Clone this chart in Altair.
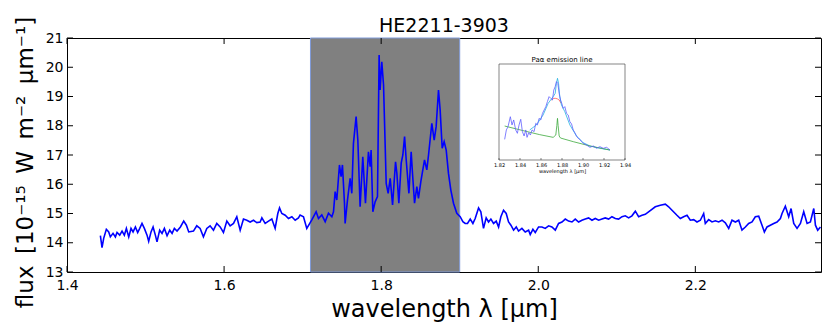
import altair as alt
import pandas as pd

TITLE = "HE2211-3903"
X_TITLE = "wavelength λ [μm]"
Y_TITLE = "flux\u2002[10⁻¹⁵\u2002W\u2002m⁻²\u2002μm⁻¹]"
INSET_TITLE = "Paα emission line"
INSET_X_TITLE = "wavelength λ [μm]"

X_TICKS = [1.4, 1.6, 1.8, 2.0, 2.2]
Y_TICKS = [13, 14, 15, 16, 17, 18, 19, 20, 21]
INSET_X_TICKS = [1.82, 1.84, 1.86, 1.88, 1.90, 1.92, 1.94]

# shaded wavelength band (x0, x1) spanning full flux range
BAND = [(1.71, 1.90, 13, 21)]

# spectrum segments: (wavelength um, flux 1e-15 W m-2 um-1)
seg_a = [(1.4425,14.24),(1.4446,13.83),(1.4467,14.15),(1.4501,14.46),(1.4531,14.37),(1.4552,14.20),(1.4586,14.32),(1.4616,14.20),(1.4637,14.35),(1.4671,14.26),(1.4701,14.40),(1.4730,14.26),(1.4756,14.49),(1.4786,14.20),(1.4815,14.49),(1.4841,14.37),(1.4871,14.54),(1.4900,14.35),(1.4926,14.49),(1.4955,14.66),(1.4985,14.49),(1.5019,14.26),(1.5040,14.05),(1.5070,14.37),(1.5096,14.54),(1.5125,14.26),(1.5146,14.03),(1.5180,14.43),(1.5210,14.32),(1.5240,14.49),(1.5274,14.24),(1.5308,14.43),(1.5338,14.32),(1.5367,14.49),(1.5401,14.40),(1.5444,14.54),(1.5486,14.74),(1.5520,14.60),(1.5550,14.37)]
seg_b = [(1.5610,14.40),(1.5652,14.58),(1.5695,14.49),(1.5737,14.20),(1.5780,14.49),(1.5822,14.58),(1.5865,14.43),(1.5907,14.66),(1.5950,14.54),(1.5992,14.35),(1.6035,14.74),(1.6077,14.58),(1.6120,14.66),(1.6162,14.89),(1.6205,14.43),(1.6247,14.81),(1.6289,14.77),(1.6332,14.71),(1.6374,14.77),(1.6417,14.69),(1.6459,14.71),(1.6481,14.85),(1.6523,14.66),(1.6566,14.74),(1.6608,14.81),(1.6650,14.49),(1.6684,15.00),(1.6706,15.19),(1.6735,15.00),(1.6778,14.94),(1.6820,14.83),(1.6863,14.89),(1.6905,14.77),(1.6947,14.85)]
seg_c = [(1.6968,14.95),(1.7011,14.89),(1.7053,14.49),(1.7117,14.78),(1.7172,15.06),(1.7202,14.83),(1.7244,14.95),(1.7287,14.72),(1.7329,15.01),(1.7372,14.89),(1.7393,15.06),(1.7414,15.75),(1.7435,15.46),(1.7469,16.66),(1.7490,16.26),(1.7507,16.66),(1.7533,15.35),(1.7541,14.66),(1.7571,15.46),(1.7605,16.20),(1.7626,15.69),(1.7647,17.40),(1.7681,18.31),(1.7703,17.51),(1.7732,15.23),(1.7766,16.94),(1.7800,15.35),(1.7838,17.11),(1.7860,16.60),(1.7872,17.17),(1.7894,15.06),(1.7923,15.40),(1.7953,15.58),(1.7974,20.42),(1.7987,19.22),(1.8008,20.19),(1.8030,19.40)]
seg_d = [(1.8064,16.03),(1.8089,15.69),(1.8115,16.20),(1.8145,15.29),(1.8183,16.77),(1.8200,16.37),(1.8225,15.35),(1.8255,16.72),(1.8276,17.00),(1.8298,17.63),(1.8319,16.83),(1.8353,15.69),(1.8382,17.11),(1.8399,16.37),(1.8425,15.35),(1.8454,15.92),(1.8475,15.52),(1.8505,16.09),(1.8552,16.83),(1.8581,16.49),(1.8603,17.00),(1.8645,18.08),(1.8675,17.51),(1.8700,17.97),(1.8730,19.22),(1.8751,18.54),(1.8777,17.23),(1.8802,17.46),(1.8828,17.17),(1.8857,16.37),(1.8887,15.80),(1.8921,15.35),(1.8963,15.01),(1.9006,14.89),(1.9040,14.72),(1.9070,14.66)]
seg_e = [(1.9099,14.66),(1.9134,14.81),(1.9168,14.66),(1.9197,14.83),(1.9240,15.19),(1.9269,15.06),(1.9303,14.49),(1.9337,14.85),(1.9367,14.71),(1.9397,14.81),(1.9431,14.66),(1.9465,14.74),(1.9495,14.54),(1.9524,14.89),(1.9558,15.11),(1.9592,15.00),(1.9622,14.71),(1.9652,14.60),(1.9686,14.43),(1.9720,14.54),(1.9749,14.40),(1.9792,14.49),(1.9834,14.37),(1.9877,14.43),(1.9898,14.28),(1.9932,14.46),(1.9962,14.35),(2.0004,14.54),(2.0047,14.54),(2.0089,14.49),(2.0132,14.58),(2.0174,14.54),(2.0217,14.43),(2.0259,14.66),(2.0302,14.71),(2.0344,14.81),(2.0386,14.74),(2.0429,14.71),(2.0471,14.81),(2.0514,14.71),(2.0556,14.77),(2.0599,14.81),(2.0641,14.85),(2.0684,14.77),(2.0726,14.83),(2.0769,14.77),(2.0811,14.81),(2.0853,14.85),(2.0896,14.81),(2.0938,14.89),(2.0981,14.83),(2.1023,14.81),(2.1066,14.89),(2.1108,14.92),(2.1151,14.85),(2.1193,14.92),(2.1236,15.08),(2.1278,14.89),(2.1321,14.94),(2.1363,14.97)]
seg_f = [(2.1490,15.23),(2.1554,15.28),(2.1618,15.32),(2.1660,15.23),(2.1703,15.11),(2.1766,14.94),(2.1809,14.83),(2.1851,14.89),(2.1894,14.94),(2.1936,14.77),(2.1979,14.79),(2.2021,14.71),(2.2064,14.77),(2.2106,15.00),(2.2127,14.66),(2.2170,14.79),(2.2212,14.71),(2.2255,14.75),(2.2297,14.71),(2.2340,14.77),(2.2382,14.68),(2.2425,14.49),(2.2467,14.77),(2.2510,14.71),(2.2552,14.77),(2.2594,14.43),(2.2637,14.54),(2.2679,14.66),(2.2722,14.71),(2.2764,14.89),(2.2807,14.91),(2.2849,14.60),(2.2879,14.37),(2.2913,14.54),(2.2955,14.60),(2.2998,14.66),(2.3040,14.71),(2.3083,14.83),(2.3104,15.00),(2.3146,15.25),(2.3189,14.89),(2.3219,15.17),(2.3253,14.66),(2.3295,14.49),(2.3338,14.66),(2.3380,15.06),(2.3423,14.66),(2.3465,14.71),(2.3508,15.17),(2.3529,14.60),(2.3558,14.43),(2.3593,14.54)]

# inset (arbitrary flux units 0..10)
inset_data = [(1.8254,2.15),(1.8270,3.13),(1.8286,3.47),(1.8308,4.51),(1.8324,3.65),(1.8340,4.17),(1.8359,3.13),(1.8375,2.78),(1.8391,3.65),(1.8407,4.24),(1.8423,2.95),(1.8439,2.50),(1.8455,3.13),(1.8467,2.36),(1.8483,2.85),(1.8499,2.60),(1.8515,3.13),(1.8534,2.95),(1.8550,3.82),(1.8566,3.65),(1.8582,4.34),(1.8598,4.17),(1.8614,4.86),(1.8630,5.21),(1.8646,5.56),(1.8661,6.08),(1.8677,6.60),(1.8693,6.42),(1.8709,6.25),(1.8722,7.29),(1.8735,7.64),(1.8747,8.16),(1.8760,7.99),(1.8773,6.94),(1.8786,6.25),(1.8798,5.90),(1.8811,5.38),(1.8827,5.56),(1.8843,4.86),(1.8859,4.69),(1.8875,3.99),(1.8891,3.75),(1.8907,3.13),(1.8922,2.85),(1.8938,2.50),(1.8954,2.26),(1.8970,2.15),(1.8986,1.91),(1.9002,1.74),(1.9034,1.56),(1.9066,1.32),(1.9098,1.46),(1.9129,1.22),(1.9161,1.39),(1.9193,1.22),(1.9225,1.32),(1.9257,1.04)]
inset_total = [(1.8493,3.13),(1.8556,3.65),(1.8620,4.69),(1.8668,5.90),(1.8716,6.60),(1.8735,6.94),(1.8747,7.99),(1.8757,8.51),(1.8767,7.99),(1.8779,6.60),(1.8795,5.73),(1.8827,5.03),(1.8875,3.65),(1.8938,2.50),(1.9002,1.80),(1.9066,1.46),(1.9161,1.22),(1.9257,1.04)]
inset_broad = [(1.8700,6.25),(1.8722,6.42),(1.8741,6.42),(1.8757,6.36),(1.8773,6.25),(1.8792,5.90)]
inset_narrow = [(1.8254,3.54),(1.8429,3.06),(1.8588,2.64),(1.8716,2.36),(1.8741,2.60),(1.8751,3.60),(1.8757,4.34),(1.8763,3.60),(1.8773,2.50),(1.8786,2.29),(1.8907,1.91),(1.9066,1.46),(1.9257,1.04)]

W, H = 754, 234
FONT = "DejaVu Sans"

spec_df = pd.DataFrame(seg_a + seg_b + seg_c + seg_d + seg_e + seg_f, columns=["wl", "flux"])
band_df = pd.DataFrame(BAND, columns=["x0", "x1", "y0", "y1"])
xt_df = pd.DataFrame({"t": X_TICKS})
yt_df = pd.DataFrame({"t": Y_TICKS})

XSCALE = alt.Scale(domain=[1.4, 2.36], nice=False, zero=False)
YSCALE = alt.Scale(domain=[13, 21], nice=False, zero=False)
XAXIS = alt.Axis(values=X_TICKS, format=".1f", ticks=False, domain=False, grid=False,
                 labelFontSize=14, labelPadding=6, labelFlush=False, labelColor="black",
                 labelFont=FONT, title=X_TITLE, titleFont=FONT, titleFontSize=24,
                 titleFontWeight="normal", titleColor="black", titleY=44,
                 titleBaseline="alphabetic")
YAXIS = alt.Axis(values=Y_TICKS, format="d", ticks=False, domain=False, grid=False,
                 labelFontSize=14, labelPadding=4, labelColor="black", labelFont=FONT,
                 title=Y_TITLE, titleFont=FONT, titleFontSize=23, titleFontWeight="normal",
                 titleColor="black", titleX=-35, titleY=124, titleAngle=270,
                 titleBaseline="alphabetic", titleLimit=400)


def xm(f):
    return alt.X(f"{f}:Q", scale=XSCALE, axis=XAXIS)


def ym(f):
    return alt.Y(f"{f}:Q", scale=YSCALE, axis=YAXIS)


gray = alt.Chart(band_df).mark_rect(fill="#808080", stroke="#7f9ad8", strokeWidth=1).encode(
    x=xm("x0"), x2="x1", y=ym("y0"), y2="y1")
spec = alt.Chart(spec_df).mark_line(color="#0000ff", strokeWidth=1.6).encode(
    x=xm("wl"), y=ym("flux"))
tick_b = alt.Chart(xt_df).mark_rule(color="black").encode(
    x=xm("t"), y=alt.value(H), y2=alt.value(H - 6))
tick_t = alt.Chart(xt_df).mark_rule(color="black").encode(
    x=xm("t"), y=alt.value(0), y2=alt.value(6))
tick_l = alt.Chart(yt_df).mark_rule(color="black").encode(
    y=ym("t"), x=alt.value(0), x2=alt.value(6))
tick_r = alt.Chart(yt_df).mark_rule(color="black").encode(
    y=ym("t"), x=alt.value(W), x2=alt.value(W - 6))
title_mark = alt.Chart(pd.DataFrame({"label": [TITLE]})).mark_text(
    fontSize=19, font=FONT, color="black", baseline="alphabetic", align="center").encode(
    x=alt.value(W / 2), y=alt.value(-6), text="label:N")
main = alt.layer(gray, spec, tick_b, tick_t, tick_l, tick_r, title_mark)

# inset placed in pixel range of the plot area
IX = alt.Scale(domain=[1.82, 1.94], range=[432, 558], nice=False, zero=False)
IY = alt.Scale(domain=[0, 10], range=[122, 26], nice=False, zero=False)
IAXIS = alt.Axis(orient="bottom", offset=-112, values=INSET_X_TICKS, format=".2f",
                 ticks=False, domain=False, grid=False, labelFontSize=5, labelPadding=2,
                 labelFlush=False, labelColor="black", labelFont=FONT, title=INSET_X_TITLE,
                 titleFont=FONT, titleFontSize=5, titlePadding=1, titleFontWeight="normal",
                 titleColor="black")


def xi(f):
    return alt.X(f"{f}:Q", scale=IX, axis=IAXIS)


def yi(f):
    return alt.Y(f"{f}:Q", scale=IY, axis=None)


box_df = pd.DataFrame([(1.82, 1.94, 0, 10)], columns=["x0", "x1", "y0", "y1"])
box = alt.Chart(box_df).mark_rect(fill="white", stroke="#333333", strokeWidth=0.6).encode(
    x=xi("x0"), x2="x1", y=yi("y0"), y2="y1")


def iline(pairs, color, w=0.8):
    df = pd.DataFrame(pairs, columns=["x", "y"])
    return alt.Chart(df).mark_line(color=color, strokeWidth=w).encode(x=xi("x"), y=yi("y"))


ititle = alt.Chart(pd.DataFrame({"x": [1.88], "y": [10], "label": [INSET_TITLE]})).mark_text(
    baseline="bottom", dy=-1, fontSize=7, font=FONT, color="black").encode(
    x=xi("x"), y=yi("y"), text="label:N")
ixt_df = pd.DataFrame({"t": INSET_X_TICKS})
itick = alt.Chart(ixt_df).mark_rule(color="#333333", strokeWidth=0.6).encode(
    x=xi("t"), y=alt.value(122), y2=alt.value(120))

inset = alt.layer(
    box,
    iline(inset_broad, "#ff5555"),
    iline(inset_total, "#22b0e0"),
    iline(inset_narrow, "#3caa3c"),
    iline(inset_data, "#6060ff"),
    ititle,
    itick,
)

chart = alt.layer(main, inset).resolve_scale(x="independent", y="independent").properties(
    width=W, height=H,
    autosize=alt.AutoSizeParams(type="none"),
    padding={"left": 59, "top": 30, "right": 1, "bottom": 52},
    background="white",
).configure(font=FONT).configure_view(stroke="black", strokeWidth=1)

chart.save("out.html", embed_options={"renderer": "svg", "actions": False})
